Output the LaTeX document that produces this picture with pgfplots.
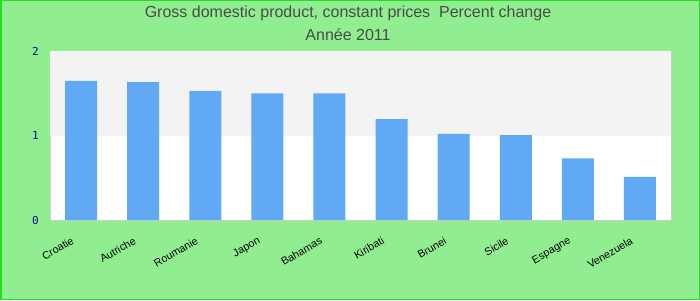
\documentclass[border=0pt]{standalone}
\usepackage{fontspec}
\setmainfont{Liberation Sans}
\newfontfamily\monofont{DejaVu Sans Mono}
\usepackage{pgfplots}
\pgfplotsset{compat=1.18}
\definecolor{bggreen}{HTML}{90EE90}
\definecolor{bordergreen}{HTML}{22DD22}
\definecolor{barblue}{HTML}{62A9F5}
\definecolor{bandgray}{HTML}{F3F3F3}
\definecolor{titlegray}{HTML}{4A4A4A}
\definecolor{tickblue}{HTML}{0A0AA0}
\definecolor{framegray}{HTML}{CCCCCC}
\begin{document}
\begin{tikzpicture}[x=1pt,y=1pt]
\useasboundingbox (0,0) rectangle (700,300);
\fill[bggreen] (0,0) rectangle (700,300);
\draw[bordergreen, line width=1.5pt] (0.75,0.75) rectangle (699.25,299.25);
\node[anchor=base, text=titlegray, font=\fontsize{16}{19}\selectfont] at (348,282) {Gross domestic product, constant prices\ \ Percent change};
\node[anchor=base, text=titlegray, font=\fontsize{16}{19}\selectfont] at (348,259) {Année 2011};
\begin{axis}[
  at={(50pt,80pt)}, anchor=south west,
  scale only axis, width=621pt, height=169pt,
  xmin=-0.5, xmax=9.5, ymin=0, ymax=2,
  ytick={0,1,2},
  xtick=data,
  xticklabels={Croatie,Autriche,Roumanie,Japon,Bahamas,Kiribati,Brunei,Sicile,Espagne,Venezuela},
  major tick length=0pt,
  axis background/.style={fill=white},
  axis line style={draw=framegray, line width=1pt},
  /pgf/number format/assume math mode=true,
  yticklabel style={font=\monofont\fontsize{11}{13}\selectfont, text=tickblue, anchor=east, inner sep=0pt, xshift=-11pt},
  xticklabel style={font=\fontsize{10.7}{12}\selectfont, text=black, rotate=30, anchor=north east, inner sep=0pt, xshift=-17pt, yshift=-9pt},
  ybar, bar width=32pt,
]
\fill[bandgray] (axis cs:-0.5,1) rectangle (axis cs:9.5,2);
\addplot[fill=barblue, draw=none] coordinates {
(0,1.645) (1,1.633) (2,1.527) (3,1.50) (4,1.50) (5,1.195) (6,1.02) (7,1.005) (8,0.73) (9,0.51)};
\end{axis}
\end{tikzpicture}
\end{document}
